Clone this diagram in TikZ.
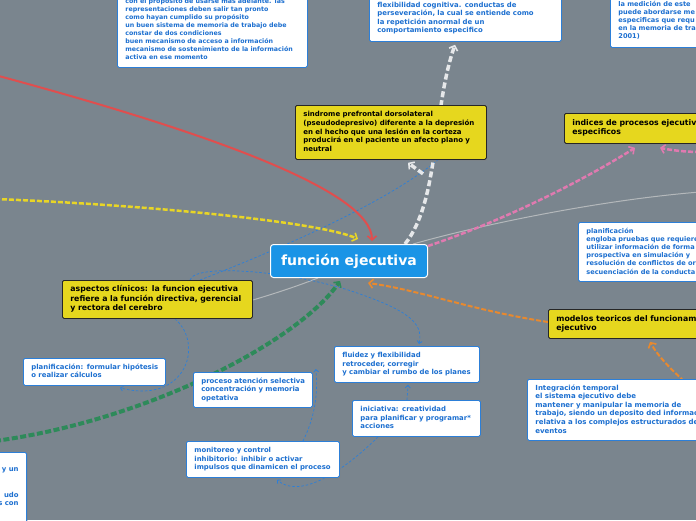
\documentclass[tikz,border=0pt]{standalone}
\usepackage{fontspec}
\setmainfont{DejaVu Sans}
\usetikzlibrary{arrows.meta,calc,shadows,backgrounds}
\definecolor{bgc}{HTML}{7A858E}
\definecolor{boxblue}{HTML}{2C7FD8}
\definecolor{txtblue}{HTML}{1C6FD0}
\definecolor{ybox}{HTML}{E6D71E}
\definecolor{rootblue}{HTML}{1A94E6}
\definecolor{cred}{HTML}{E04E4E}
\definecolor{cyel}{HTML}{E8D526}
\definecolor{cwhite}{HTML}{E6E8EA}
\definecolor{cgreen}{HTML}{2E8A5A}
\definecolor{cpink}{HTML}{E07AB0}
\definecolor{corange}{HTML}{E8892E}
\definecolor{cgray}{HTML}{B4B8BB}
\newcommand\tx[1]{\begin{tabular}{@{}l@{}}#1\end{tabular}}
\tikzset{
  wbox/.style={draw=boxblue, line width=0.8pt, fill=white, rounded corners=1.5pt,
    text=txtblue, font=\bfseries\fontsize{6.9}{8.5}\selectfont, align=left,
    anchor=north west, inner xsep=8pt, inner ysep=0pt,
    drop shadow={shadow xshift=1pt, shadow yshift=-1.5pt, opacity=0.35}},
  ybox/.style={wbox, draw=black!85, fill=ybox, text=black},
  tlfont/.style={font=\bfseries\fontsize{6.3}{7.9}\selectfont},
  itfont/.style={font=\bfseries\fontsize{7}{8.6}\selectfont},
  prfont/.style={font=\bfseries\fontsize{6.6}{8.2}\selectfont},
  sfont/.style={font=\bfseries\fontsize{7}{8.6}\selectfont},
  yfont/.style={font=\bfseries\fontsize{7.8}{9.4}\selectfont},
  rootbox/.style={draw=white, line width=1pt, fill=rootblue, rounded corners=3pt,
    text=white, font=\bfseries\fontsize{14}{16}\selectfont, anchor=north west,
    inner sep=0pt, align=center},
  tipb/.style={-{Straight Barb[length=4pt,width=9pt,line width=1.6pt]}},
  tips/.style={-{Straight Barb[length=2.5pt,width=5pt,line width=0.8pt]}},
  redc/.style={draw=cred, line width=2pt, tipb},
  yelc/.style={draw=cyel, line width=2.5pt, dash pattern=on 5pt off 2pt, tipb},
  whic/.style={draw=cwhite, line width=3.5pt, dash pattern=on 6pt off 3pt, tipb},
  grec/.style={draw=cgreen, line width=4pt, dash pattern=on 6pt off 2.5pt, tipb},
  pinc/.style={draw=cpink, line width=2.5pt, dash pattern=on 5pt off 2pt, tipb},
  orac/.style={draw=corange, line width=2pt, dash pattern=on 5pt off 2pt, tipb},
  grac/.style={draw=cgray, line width=1pt},
  bluc/.style={draw=boxblue, line width=0.7pt, dash pattern=on 2.5pt off 2pt},
}
\begin{document}
\begin{tikzpicture}[x=1pt,y=-1pt]
\useasboundingbox (0,0) rectangle (696,520);
\clip (0,0) rectangle (696,520);

% ---------- nodes ----------
\node[rootbox, minimum width=157pt, minimum height=33pt] (ce) at (270,244) {función ejecutiva};

\node[wbox, tlfont, text width=174pt, minimum height=75pt] (tl) at (117,-8)
 {\tx{con el propósito de usarse más adelante. las\\
  representaciones deben salir tan pronto\\
  como hayan cumplido su propósito\\
  un buen sistema de memoria de trabajo debe\\
  constar de dos condiciones\\
  buen mecanismo de acceso a información\\
  mecanismo de sostenimiento de la información\\
  activa en ese momento}};

\node[wbox, text width=176pt, minimum height=46pt] (tm) at (369,-5)
 {\tx{flexibilidad cognitiva. conductas de\\
  perseveración, la cual se entiende como\\
  la repetición anormal de un\\
  comportamiento especifico}};

\node[wbox, prfont, text width=184pt, minimum height=53pt] (tr) at (610,-6)
 {\tx{la medición de este\\
  puede abordarse me\\
  especificas que requ\\
  en la memoria de tra\\
  2001)}};

\node[ybox, sfont, text width=175pt, minimum height=54pt] (sd) at (295,105)
 {\tx{sindrome prefrontal dorsolateral\\
  (pseudodepresivo) diferente a la depresión\\
  en el hecho que una lesión en la corteza\\
  producirá en el paciente un afecto plano y\\
  neutral}};

\node[ybox, yfont, text width=184pt, minimum height=30pt] (ix) at (564,113)
 {\tx{indices de procesos ejecutiv\\
  especificos}};

\node[wbox, prfont, text width=184pt, minimum height=59pt] (pr2) at (578,222)
 {\tx{planificación\\
  engloba pruebas que requiere\\
  utilizar información de forma\\
  prospectiva en simulación y\\
  resolución de conflictos de org\\
  secuenciación de la conducta}};

\node[ybox, yfont, text width=174pt, minimum height=38pt] (as) at (62,280)
 {\tx{aspectos clínicos: la funcion ejecutiva\\
  refiere a la función directiva, gerencial\\
  y rectora del cerebro}};

\node[ybox, yfont, text width=184pt, minimum height=29pt] (md) at (548,309)
 {\tx{modelos teoricos del funcionam\\
  ejecutivo}};

\node[wbox, itfont, text width=204pt, minimum height=61pt] (it) at (527,379)
 {\tx{Integración temporal\\
  el sistema ejecutivo debe\\
  mantener y manipular la memoria de\\
  trabajo, siendo un deposito ded informac\\
  relativa a los complejos estructurados de\\
  eventos}};

\node[wbox, text width=129pt, minimum height=36pt] (fl) at (334,346)
 {\tx{fluidez y flexibilidad\\
  retroceder, corregir\\
  y cambiar el rumbo de los planes}};

\node[wbox, text width=112pt, minimum height=36pt] (in) at (352,400)
 {\tx{iniciativa: creatividad\\
  para planificar y programar*\\
  acciones}};

\node[wbox, text width=103pt, minimum height=35pt] (pa) at (193,372)
 {\tx{proceso atención selectiva\\
  concentración y memoria\\
  opetativa}};

\node[wbox, text width=137pt, minimum height=36pt] (mo) at (186,441)
 {\tx{monitoreo y control\\
  inhibitorio: inhibir o activar\\
  impulsos que dinamicen el proceso}};

\node[wbox, text width=126pt, minimum height=27pt] (pl) at (23,358)
 {\tx{planificación: formular hipótesis\\
  o realizar cálculos}};

\node[wbox, align=right, text width=79pt, minimum height=80pt, anchor=north east] (bl) at (27,452)
 {\mbox{}\\[1pt]y un\\ \mbox{}\\ \mbox{}\\ udo\\ s con\\ \mbox{}\\ \mbox{}};

% ---------- connectors ----------
\begin{scope}[on background layer]
\fill[bgc] (0,0) rectangle (696,520);
\coordinate (redS) at (-5,75);
\coordinate (yelS) at (-5,199);
\coordinate (greS) at (-5,441);
\coordinate (grayE) at (700,192);
\coordinate (pinkR) at (700,152);
\coordinate (oraR) at (700,395);

% gray thin
\draw[grac] ($(ce.north east)+(-15,0)$) .. controls (480,225) and (600,200) .. (grayE);
\draw[grac] ($(as.north east)+(0,20)$) .. controls (280,292) and (300,285) .. ($(ce.south west)+(48,0)$);

% blue thin dashed
\draw[bluc] ($(as.north west)+(138,0)$) .. controls (290,245) and (390,200) .. ($(sd.south west)+(143,0)$);
\draw[bluc, tips] ($(as.north west)+(128,0)$) .. controls (195,262) and (300,272) .. (360,294)
   .. controls (405,310) and (424,322) .. ($(fl.north west)+(85,-2)$);
\draw[bluc, tips] ($(as.south west)+(113,0)$) .. controls (205,345) and (185,405) .. ($(pl.south west)+(97,2)$);
\draw[bluc, tips] ($(mo.north west)+(117,0)$) .. controls (316,415) and (318,390) .. ($(pa.north east)+(3,-3)$);
\draw[bluc, tips] ($(in.north west)+(55,0)$) -- ($(fl.south west)+(74,2)$);
\draw[bluc, tips] ($(in.south west)+(26,0)$) .. controls (345,470) and (300,500) .. ($(mo.south west)+(91,2)$);

% main branches
\draw[redc] (redS) .. controls (200,130) and (372,190) .. ($(ce.north west)+(102,-3)$);
\draw[yelc] (yelS) .. controls (150,205) and (320,222) .. ($(ce.north west)+(88,-5)$);
\draw[whic] ($(ce.north west)+(135,0)$) .. controls (440,200) and (432,110) .. ($(tm.south west)+(86,3)$);
\draw[whic] ($(sd.south west)+(128,14)$) -- ($(sd.south west)+(113,3)$);
\draw[pinc] ($(ce.north east)+(0,2)$) .. controls (520,215) and (600,170) .. ($(ix.south west)+(71,4)$);
\draw[pinc] (pinkR) .. controls (685,152) and (670,150) .. ($(ix.south west)+(96,4)$);
\draw[grec] (greS) .. controls (150,420) and (300,340) .. ($(ce.south west)+(70,3)$);
\draw[orac] ($(md.north west)+(0,13)$) .. controls (470,310) and (420,290) .. ($(ce.south west)+(98,5)$);
\draw[orac] (oraR) .. controls (680,378) and (660,360) .. ($(md.south west)+(102,3)$);
\end{scope}
\end{tikzpicture}
\end{document}
